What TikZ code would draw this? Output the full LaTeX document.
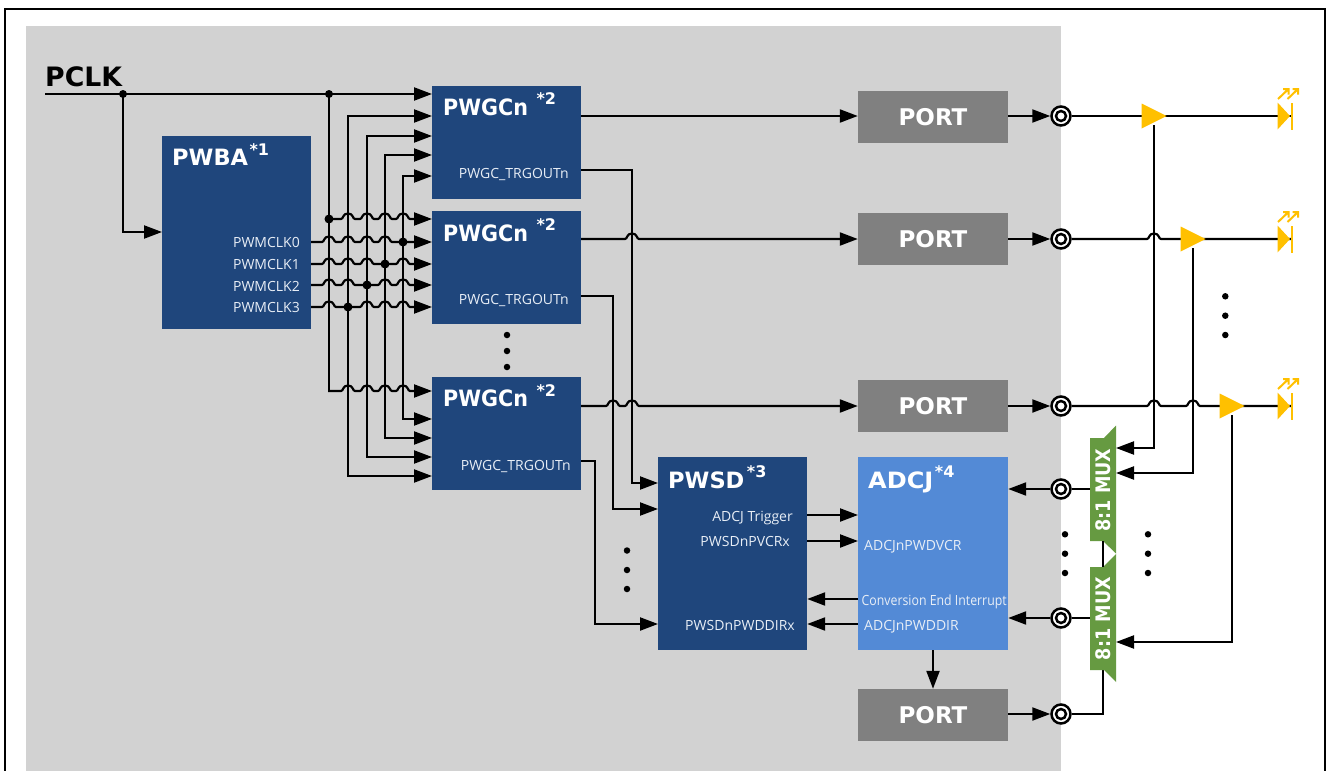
\documentclass[tikz,border=0pt]{standalone}
\usepackage{fontspec}
\setmainfont{Open Sans}
\newfontfamily\ttlfont{DejaVu Sans}
\usetikzlibrary{arrows.meta}
\definecolor{regiongray}{HTML}{D2D2D2}
\definecolor{blockblue}{HTML}{1F467C}
\definecolor{adcblue}{HTML}{538AD6}
\definecolor{portgray}{HTML}{808080}
\definecolor{muxgreen}{HTML}{669A41}
\definecolor{ampyellow}{HTML}{FFC000}
\definecolor{smalltxt}{HTML}{E8EEF6}
\newcommand{\hop}[2]{-- (#1-7,#2) .. controls (#1-4.5,#2) and (#1-5.5,#2-5.5) .. (#1,#2-5.5) .. controls (#1+5.5,#2-5.5) and (#1+4.5,#2) .. (#1+7,#2)}
\tikzset{
  x=1pt,y=-1pt,
  wire/.style={line width=2.2pt,black},
  arr/.style={wire,-{Triangle[length=18pt,width=13pt]}},
  biarr/.style={wire,{Triangle[length=18pt,width=13pt]}-{Triangle[length=18pt,width=13pt]}},
  blockbox/.style={fill=blockblue,inner sep=0pt,minimum width=149pt},
  adcbox/.style={fill=adcblue,inner sep=0pt,minimum width=150pt,minimum height=193pt},
  portbox/.style={fill=portgray,inner sep=0pt,minimum width=150pt,minimum height=52pt,text=white,font=\ttlfont\bfseries\fontsize{23}{23}\selectfont},
  ttl/.style={anchor=base west,inner sep=0pt,text=white,font=\ttlfont\bfseries\fontsize{22.5}{23}\selectfont},
  small/.style={inner sep=0pt,text=smalltxt,font=\fontsize{14}{14}\selectfont},
  smallr/.style={small,anchor=base east},
  smalll/.style={small,anchor=base west},
  dotj/.style={circle,fill=black,inner sep=0pt,minimum size=9pt},
  ell/.style={circle,fill=black,inner sep=0pt,minimum size=6.5pt},
  pad/.style={circle,draw=black,fill=white,line width=2.5pt,inner sep=0pt,minimum size=19pt},
  padin/.style={circle,draw=black,fill=white,line width=2.5pt,inner sep=0pt,minimum size=10pt},
  muxtxt/.style={inner sep=0pt,rotate=90,text=white,font=\ttlfont\bfseries\fontsize{20}{20}\selectfont},
  pics/led/.style={code={
    \fill[ampyellow] (-13.5,-13.5) -- (-1,0) -- (-13.5,13.5) -- cycle;
    \fill[ampyellow] (-0.5,-13.5) rectangle (1.5,13.5);
    \draw[ampyellow,line width=2pt] (-13,-17) -- (-2.5,-27) (-8,-27) -- (-2.5,-27) -- (-2.5,-21.5);
    \draw[ampyellow,line width=2pt] (-3.5,-17) -- (7,-27) (1.5,-27) -- (7,-27) -- (7,-21.5);
  }},
  pics/amp/.style={code={\fill[ampyellow] (-12.5,-12.5) -- (12.5,0) -- (-12.5,12.5) -- cycle;}},
}
\newcommand{\sups}[2]{\hspace{#1pt}\raisebox{10.5pt}{\fontsize{16}{16}\selectfont *#2}}
\begin{document}
\begin{tikzpicture}
\useasboundingbox (0,0) rectangle (1326,771);
\fill[white] (0,0) rectangle (1326,771);
\draw[line width=2.2pt] (5,771) -- (5,9) -- (1325,9) -- (1325,771);
\fill[regiongray] (26,26) rectangle (1061,771);

% blocks
\node[blockbox,minimum height=193pt] (pwba) at (236.5,232.5) {};
\node[blockbox,minimum height=113pt] (g1) at (506.5,142.5) {};
\node[blockbox,minimum height=113pt] (g2) at (506.5,267.5) {};
\node[blockbox,minimum height=113pt] (g3) at (506.5,433.5) {};
\node[blockbox,minimum height=193pt] (pwsd) at (732.5,553.5) {};
\node[adcbox] (adcj) at (933,553.5) {};
\node[portbox] (p1) at (933,117) {PORT};
\node[portbox] (p2) at (933,239) {PORT};
\node[portbox] (p3) at (933,406) {PORT};
\node[portbox] (p4) at (933,715) {PORT};

% titles
\node[anchor=base west,inner sep=0pt,font=\ttlfont\bfseries\fontsize{26.7}{27}\selectfont] (pclk) at (45,86.5) {PCLK};
\node[ttl] (t0) at (172,165.5) {PWBA\sups{1.5}{1}};
\node[ttl] (t1) at (443,115) {\scalebox{0.92}[1]{PWGCn}\sups{8.5}{2}};
\node[ttl] (t2) at (443,241) {\scalebox{0.92}[1]{PWGCn}\sups{8.5}{2}};
\node[ttl] (t3) at (443,406.5) {\scalebox{0.92}[1]{PWGCn}\sups{8.5}{2}};
\node[ttl] (t4) at (668,488) {PWSD\sups{2.5}{3}};
\node[ttl] (t5) at (868,488) {\scalebox{1.07}[1]{ADCJ}\sups{1.5}{4}};

% small labels
\node[smallr] (l0) at (300,247) {PWMCLK0};
\node[smallr] (l1) at (300,269.3) {PWMCLK1};
\node[smallr] (l2) at (300,291.5) {PWMCLK2};
\node[smallr] (l3) at (300,312) {PWMCLK3};
\node[smallr] (l4) at (569,178.5) {PWGC\_TRGOUTn};
\node[smallr] (l5) at (569,304) {PWGC\_TRGOUTn};
\node[smallr] (l6) at (571,470) {PWGC\_TRGOUTn};
\node[smallr] (l7) at (793,521) {ADCJ Trigger};
\node[smallr] (l8) at (790,546.7) {PWSDnPVCRx};
\node[smallr] (l9) at (795,630) {PWSDnPWDDIRx};
\node[smalll] (l10) at (864,550) {ADCJnPWDVCR};
\node[smalll] (l11) at (861.5,605) {\scalebox{0.88}[1]{Conversion End Interrupt}};
\node[smalll] (l12) at (864,630) {ADCJnPWDDIR};

% named pins
\coordinate (pc) at (45,94);
\coordinate (pcj) at (123,94);
\coordinate (bus0) at (329,94);
\coordinate (busend) at (329,391);
\coordinate (ba) at (162,232);
\coordinate (g1a) at (432,94);
\coordinate (g1b) at (432,116);
\coordinate (g1c) at (432,136);
\coordinate (g1d) at (432,155);
\coordinate (g1e) at (432,176);
\coordinate (g3b) at (432,419);
\coordinate (g3c) at (432,438);
\coordinate (g3d) at (432,457);
\coordinate (g3e) at (432,476);
\coordinate (g2e0) at (432,242);
\coordinate (g2e1) at (432,264);
\coordinate (g2e2) at (432,285);
\coordinate (g2e3) at (432,307);
\coordinate (w0) at (311,242);
\coordinate (w1) at (311,264);
\coordinate (w2) at (311,285);
\coordinate (w3) at (311,307);
\coordinate (g2a) at (432,219);
\coordinate (g3a) at (432,391);

% vertical buses
\draw[wire] (bus0) -- (busend);
\draw[biarr] (g3e) -- (348,476) -- (348,116) -- (g1b);
\draw[biarr] (g3d) -- (367,457) -- (367,136) -- (g1c);
\draw[biarr] (g3c) -- (385,438) -- (385,155) -- (g1d);
\draw[biarr] (g3b) -- (403,419) -- (403,176) -- (g1e);

% PCLK
\draw[arr] (pc) -- (g1a);
\draw[arr] (pcj) |- (ba);

% horizontal lines with hops
\draw[arr] (329,219) \hop{348}{219} \hop{367}{219} \hop{385}{219} \hop{403}{219} -- (g2a);
\draw[arr] (328,391) \hop{348}{391} \hop{367}{391} \hop{385}{391} \hop{403}{391} -- (g3a);
\draw[arr] (w0) \hop{329}{242} \hop{348}{242} \hop{367}{242} \hop{385}{242} -- (g2e0);
\draw[arr] (w1) \hop{329}{264} \hop{348}{264} \hop{367}{264} -- (385,264) \hop{403}{264} -- (g2e1);
\draw[arr] (w2) \hop{329}{285} \hop{348}{285} -- (367,285) \hop{385}{285} \hop{403}{285} -- (g2e2);
\draw[arr] (w3) \hop{329}{307} -- (348,307) \hop{367}{307} \hop{385}{307} \hop{403}{307} -- (g2e3);

% junctions
\node[dotj,minimum size=8pt] (j1) at (pcj) {};
\node[dotj,minimum size=8pt] (j2) at (bus0) {};
\node[dotj] (j3) at (329,219) {};
\node[dotj] (j4) at (403,242) {};
\node[dotj] (j5) at (385,264) {};
\node[dotj] (j6) at (367,285) {};
\node[dotj] (j7) at (348,307) {};

% pads
\node[pad] (c1) at (1061,116) {};
\node[pad] (c2) at (1061,239) {};
\node[pad] (c3) at (1061,406) {};
\node[pad] (c4) at (1061,489) {};
\node[pad] (c5) at (1061,618) {};
\node[pad] (c6) at (1061,714) {};

% PWGC outputs
\draw[arr] (g1.east |- c1) -- (p1.west |- c1);
\draw[arr] (g2.east |- c2) \hop{632}{239} -- (p2.west |- c2);
\draw[arr] (g3.east |- c3) \hop{613}{406} \hop{632}{406} -- (p3.west |- c3);
\coordinate (tr1) at (581,170);
\coordinate (tr2) at (581,296);
\coordinate (tr3) at (581,461);
\coordinate (sd1) at (658,483);
\coordinate (sd2) at (658,509);
\coordinate (sd3) at (658,624);
\draw[arr] (tr1) -- (632,170) -- (632,483) -- (sd1);
\draw[arr] (tr2) -- (613,296) -- (613,509) -- (sd2);
\draw[arr] (tr3) -- (595,461) -- (595,624) -- (sd3);

% PWSD <-> ADCJ
\coordinate (a1) at (858,515);
\coordinate (a2) at (858,541);
\coordinate (a3) at (858,599);
\coordinate (a4) at (858,624);
\draw[arr] (pwsd.east |- a1) -- (a1);
\draw[arr] (pwsd.east |- a2) -- (a2);
\draw[arr] (a3) -- (pwsd.east |- a3);
\draw[arr] (a4) -- (pwsd.east |- a4);
\draw[arr] (adcj.south) -- (p4.north);

\draw[arr] (p1.east |- c1) -- (c1.west);
\draw[arr] (p2.east |- c2) -- (c2.west);
\draw[arr] (p3.east |- c3) -- (c3.west);
\draw[arr] (p4.east |- c6) -- (c6.west);
\draw[arr] (c4.west) -- (adcj.east |- c4);
\draw[arr] (c5.west) -- (adcj.east |- c5);

% right side
\coordinate (led1) at (1291,116);
\coordinate (led2) at (1291,239);
\coordinate (led3) at (1291,406);
\coordinate (b1) at (1154,116);
\coordinate (b2) at (1193,239);
\coordinate (b3) at (1232,406);
\coordinate (m1) at (1116,448);
\coordinate (m2) at (1116,473);
\coordinate (m3) at (1116,642);
\coordinate (m4) at (1090,489);
\coordinate (m5) at (1090,618);
\coordinate (m6) at (1103,670);

\draw[wire] (c1.east) -- (led1);
\draw[wire] (c2.east) \hop{1154}{239} -- (led2);
\draw[wire] (c3.east) \hop{1154}{406} \hop{1193}{406} -- (led3);
\draw[wire] (c4.east) -- (m4);
\draw[wire] (c5.east) -- (m5);
\draw[wire] (c6.east) -| (m6);
\pic at (b1) {amp};
\pic at (b2) {amp};
\pic at (b3) {amp};
\pic at (led1) {led};
\pic at (led2) {led};
\pic at (led3) {led};

% inner pad rings
\node[padin] (ci1) at (c1) {};
\node[padin] (ci2) at (c2) {};
\node[padin] (ci3) at (c3) {};
\node[padin] (ci4) at (c4) {};
\node[padin] (ci5) at (c5) {};
\node[padin] (ci6) at (c6) {};

% MUX
\fill[muxgreen] (1090,438) -- (1104,438) -- (1116,425.5) -- (1116,553.5) -- (1103,541) -- (1090,541) -- cycle;
\fill[muxgreen] (1090,567) -- (1103,567) -- (1116,554) -- (1116,682) -- (1104,670) -- (1090,670) -- cycle;
\draw[wire] (1103,541) -- (1103,567);
\node[muxtxt] (mx1) at (1103,490) {\scalebox{0.88}[1]{8:1 MUX}};
\node[muxtxt] (mx2) at (1103,618.5) {\scalebox{0.88}[1]{8:1 MUX}};
\draw[arr] (1154,125) |- (m1);
\draw[arr] (1193,248) |- (m2);
\draw[arr] (1232,415) |- (m3);

% ellipses
\foreach \i/\xx/\yy in {a/507/335,b/507/351,c/507/367,d/627/550.5,e/627/570,f/627/589,g/1225.3/296.3,h/1225.3/315.7,k/1225.3/335,m/1065/534.3,n/1065/553.7,o/1065/573,q/1148/534.3,r/1148/553.7,s/1148/573}
  \node[ell] (e\i) at (\xx,\yy) {};
\end{tikzpicture}
\end{document}
